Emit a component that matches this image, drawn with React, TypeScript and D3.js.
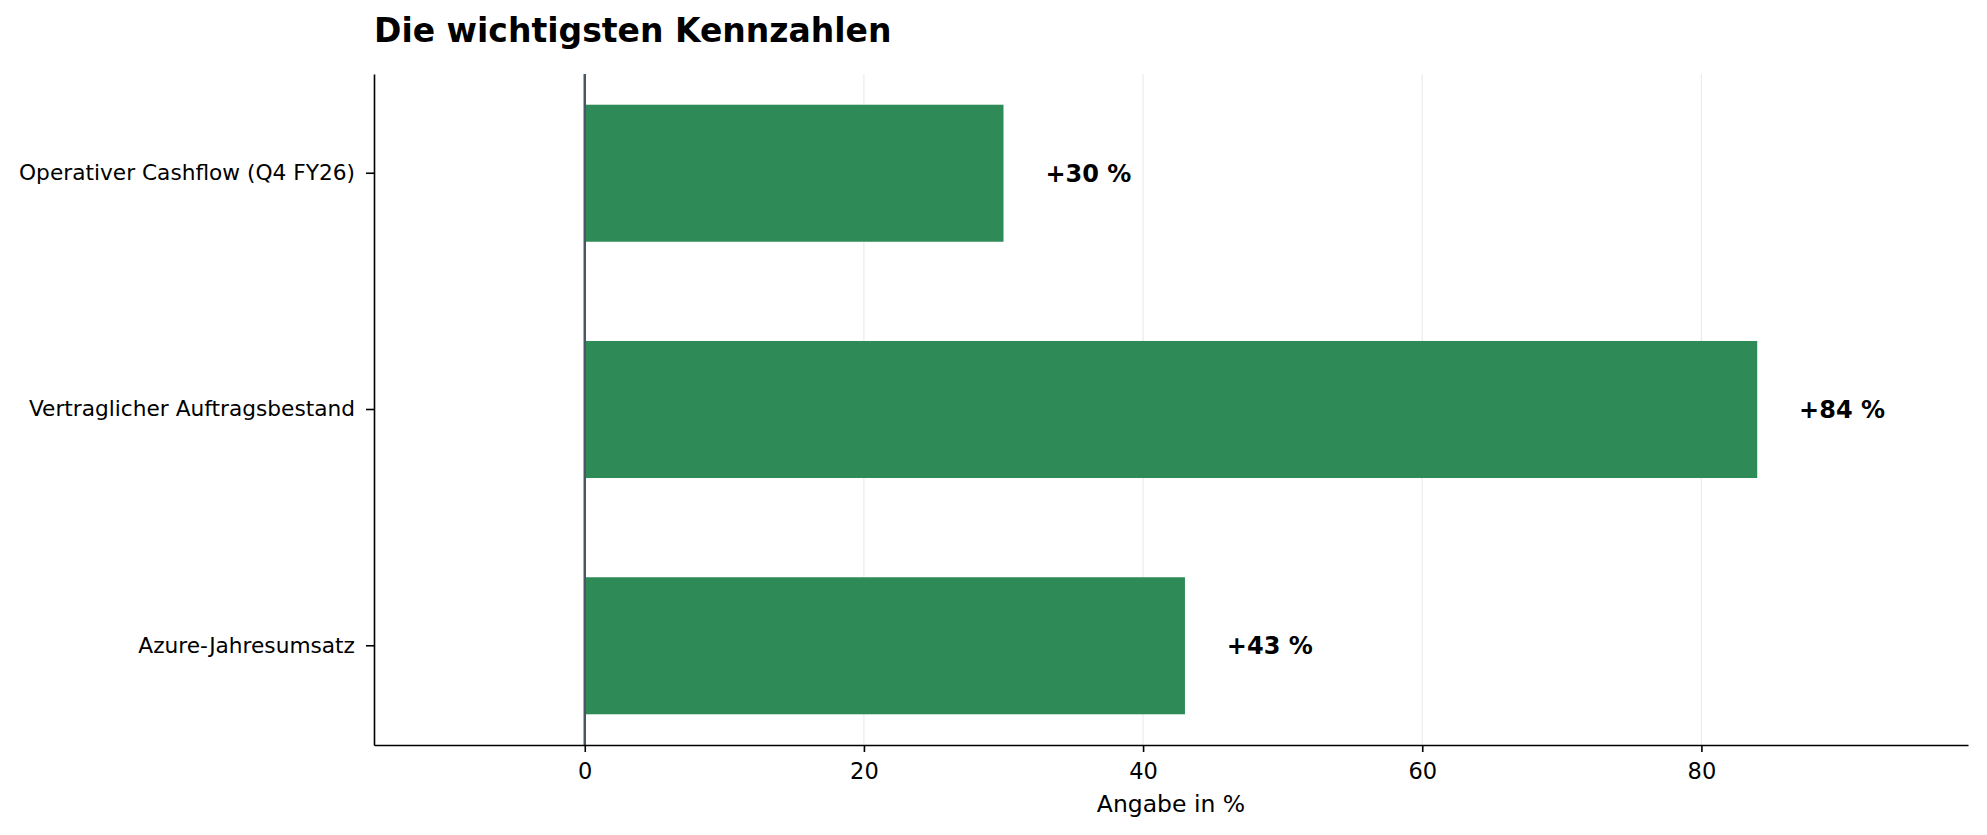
import { useEffect, useRef } from "react";
import * as d3 from "d3";

const categories = [
  "Operativer Cashflow (Q4 FY26)",
  "Vertraglicher Auftragsbestand",
  "Azure-Jahresumsatz",
];
const values = [30, 84, 43];
const valueLabels = ["+30 %", "+84 %", "+43 %"];
const xTicks = [0, 20, 40, 60, 80];

const WIDTH = 1987;
const HEIGHT = 835;
const margin = { top: 74, right: 19, bottom: 90, left: 374 };
const FONT = "DejaVu Sans, sans-serif";

export const KennzahlenChart = () => {
  const chartRef = useRef<HTMLDivElement>(null);

  useEffect(() => {
    d3.select(chartRef.current).select("svg").remove();

    const svg = d3
      .select(chartRef.current)
      .append("svg")
      .attr("width", WIDTH)
      .attr("height", HEIGHT)
      .style("display", "block")
      .style("background", "#fff");

    const innerW = WIDTH - margin.left - margin.right;
    const innerH = HEIGHT - margin.top - margin.bottom;

    const g = svg.append("g").attr("transform", `translate(${margin.left},${margin.top})`);

    const x = d3.scaleLinear().domain([-15.1, 99.1]).range([0, innerW]);
    const y = d3
      .scaleBand<string>()
      .domain(categories)
      .range([0, innerH])
      .paddingInner(0.42)
      .paddingOuter(0.13);

    // grid
    g.append("g")
      .selectAll("line")
      .data(xTicks)
      .enter()
      .append("line")
      .attr("x1", (d) => x(d))
      .attr("x2", (d) => x(d))
      .attr("y1", 0)
      .attr("y2", innerH)
      .attr("stroke", "#ebebeb")
      .attr("stroke-width", 1.2);

    // bars
    g.append("g")
      .selectAll("rect")
      .data(values)
      .enter()
      .append("rect")
      .attr("x", x(0))
      .attr("y", (_, i) => y(categories[i]) as number)
      .attr("width", (d) => x(d) - x(0))
      .attr("height", y.bandwidth())
      .attr("fill", "#2e8b57");

    // zero line
    g.append("line")
      .attr("x1", x(0))
      .attr("x2", x(0))
      .attr("y1", 0)
      .attr("y2", innerH)
      .attr("stroke", "#4a5568")
      .attr("stroke-width", 2.5);

    // value labels
    g.append("g")
      .selectAll("text")
      .data(values)
      .enter()
      .append("text")
      .attr("x", (d) => x(d + 3))
      .attr("y", (_, i) => (y(categories[i]) as number) + y.bandwidth() / 2)
      .attr("dy", "0.35em")
      .attr("font-family", FONT)
      .attr("font-size", 24)
      .attr("font-weight", "bold")
      .attr("fill", "#000")
      .text((_, i) => valueLabels[i]);

    // x axis
    const xAxis = g
      .append("g")
      .attr("transform", `translate(0,${innerH})`)
      .call(
        d3.axisBottom(x).tickValues(xTicks).tickSize(7).tickPadding(11).tickSizeOuter(0).tickFormat(d3.format("d"))
      );
    xAxis.select(".domain").attr("stroke", "#000").attr("stroke-width", 1.6);
    xAxis.selectAll(".tick line").attr("stroke", "#000").attr("stroke-width", 1.6);
    xAxis.selectAll("text").attr("font-family", FONT).attr("font-size", 22.5).attr("fill", "#000");

    // y axis
    const yAxis = g.append("g").call(d3.axisLeft(y).tickSize(8).tickPadding(11).tickSizeOuter(0));
    yAxis.select(".domain").attr("stroke", "#000").attr("stroke-width", 1.6);
    yAxis.selectAll(".tick line").attr("stroke", "#000").attr("stroke-width", 1.6);
    yAxis.selectAll("text").attr("font-family", FONT).attr("font-size", 21.7).attr("fill", "#000");

    // x label
    svg
      .append("text")
      .attr("x", margin.left + innerW / 2)
      .attr("y", 812)
      .attr("text-anchor", "middle")
      .attr("font-family", FONT)
      .attr("font-size", 23.5)
      .attr("fill", "#000")
      .text("Angabe in %");

    // title
    svg
      .append("text")
      .attr("x", margin.left)
      .attr("y", 41.5)
      .attr("font-family", FONT)
      .attr("font-size", 33)
      .attr("font-weight", "bold")
      .attr("fill", "#000")
      .text("Die wichtigsten Kennzahlen");
  }, []);

  return <div ref={chartRef} style={{ position: "absolute", left: 0, top: 0 }} />;
};

export default function App() {
  return <KennzahlenChart />;
}
